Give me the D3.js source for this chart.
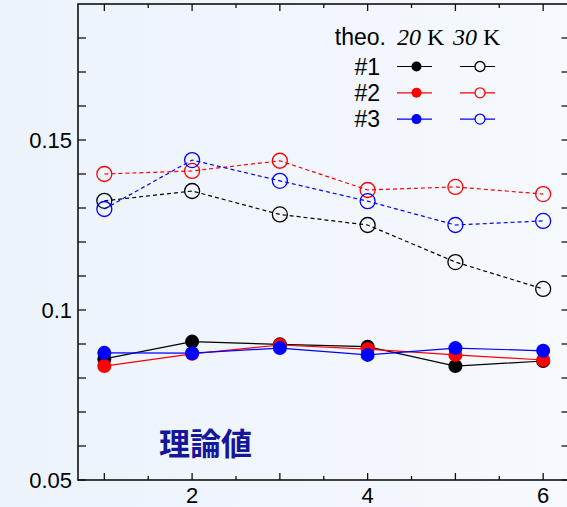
<!DOCTYPE html>
<html>
<head>
<meta charset="utf-8">
<script src="https://cdn.jsdelivr.net/npm/d3@7"></script>
<style>
  body { margin: 0; background: #f3f8fd; }
  svg { display: block; }
</style>
</head>
<body>
<svg width="567" height="507"></svg>
<script>
// x positions
var xs = [1, 2, 3, 4, 5, 6];

// 20 K (filled, solid line)
var k20_1 = [0.0856, 0.0907, 0.0899, 0.0892, 0.0835, 0.0850];
var k20_2 = [0.0835, 0.0871, 0.0897, 0.0885, 0.0868, 0.0853];
var k20_3 = [0.0874, 0.0873, 0.0888, 0.0868, 0.0888, 0.0880];

// 30 K (open, dashed line)
var k30_1 = [0.1321, 0.1350, 0.1281, 0.1250, 0.1141, 0.1062];
var k30_2 = [0.1400, 0.1409, 0.1439, 0.1353, 0.1362, 0.1341];
var k30_3 = [0.1297, 0.1441, 0.1380, 0.1320, 0.1250, 0.1262];

var seriesNames = ["#1", "#2", "#3"];
var seriesColors = ["#000000", "#ff0000", "#0000ff"];
var yTickLabels = [0.05, 0.1, 0.15];
var xTickLabels = [2, 4, 6];

var svg = d3.select("svg"),
    width = +svg.attr("width"),
    height = +svg.attr("height");

var margin = {left: 78, top: 4, right: -2.5, bottom: 27};
var sans = "'Liberation Sans', Arial, sans-serif";

// background gradient
var defs = svg.append("defs");
var grad = defs.append("linearGradient").attr("id", "bg")
    .attr("x1", 0).attr("y1", 0).attr("x2", 1).attr("y2", 0);
grad.append("stop").attr("offset", "0%").attr("stop-color", "#ecf3fb");
grad.append("stop").attr("offset", "100%").attr("stop-color", "#f6f9fe");
svg.append("rect").attr("width", width).attr("height", height).attr("fill", "url(#bg)");

var x = d3.scaleLinear().domain([0.7, 6.3]).range([margin.left, width - margin.right]);
var y = d3.scaleLinear().domain([0.05, 0.19]).range([height - margin.bottom, margin.top]);

var x0 = x.range()[0], x1 = x.range()[1], y0 = y.range()[0], y1 = y.range()[1];

// ticks, all pointing inward
var xMinor = d3.range(1, 6.01, 0.5);
var yMinor = d3.range(0.05, 0.185, 0.01);

xMinor.forEach(function (v) {
    var len = Math.abs(v - Math.round(v)) < 1e-6 ? 7 : 4;
    svg.append("line").attr("x1", x(v)).attr("x2", x(v)).attr("y1", y0).attr("y2", y0 - len)
        .attr("stroke", "#111").attr("stroke-width", 1.3);
    svg.append("line").attr("x1", x(v)).attr("x2", x(v)).attr("y1", y1).attr("y2", y1 + len)
        .attr("stroke", "#111").attr("stroke-width", 1.3);
});
yMinor.forEach(function (v) {
    svg.append("line").attr("x1", x0).attr("x2", x0 + 8).attr("y1", y(v)).attr("y2", y(v))
        .attr("stroke", "#111").attr("stroke-width", 1.3);
    svg.append("line").attr("x1", x1).attr("x2", x1 - 8).attr("y1", y(v)).attr("y2", y(v))
        .attr("stroke", "#111").attr("stroke-width", 1.3);
});

svg.append("rect").attr("x", x0).attr("y", y1).attr("width", x1 - x0).attr("height", y0 - y1)
    .attr("fill", "none").attr("stroke", "#111").attr("stroke-width", 1.6);

// tick labels
svg.append("g").selectAll("text").data(yTickLabels).enter().append("text")
    .attr("x", x0 - 6).attr("y", function (d) { return y(d) + 8; })
    .attr("text-anchor", "end")
    .style("font", "22px " + sans)
    .text(function (d) { return d; });

svg.append("g").selectAll("text").data(xTickLabels).enter().append("text")
    .attr("x", function (d) { return x(d); }).attr("y", y0 + 23)
    .attr("text-anchor", "middle")
    .style("font", "22px " + sans)
    .text(function (d) { return d; });

// data lines
var line = d3.line()
    .x(function (d, i) { return x(xs[i]); })
    .y(function (d) { return y(d); });

var k30 = [k30_1, k30_2, k30_3];
var k20 = [k20_1, k20_2, k20_3];

k30.forEach(function (vals, s) {
    var g = svg.append("g");
    g.append("path").datum(vals).attr("d", line)
        .attr("fill", "none").attr("stroke", seriesColors[s])
        .attr("stroke-width", 1.2).attr("stroke-dasharray", "4,3");
    g.selectAll("circle").data(vals).enter().append("circle")
        .attr("cx", function (d, i) { return x(xs[i]); })
        .attr("cy", function (d) { return y(d); })
        .attr("r", 7.5)
        .attr("fill", "none").attr("stroke", seriesColors[s]).attr("stroke-width", 1.3);
});

k20.forEach(function (vals, s) {
    var g = svg.append("g");
    g.append("path").datum(vals).attr("d", line)
        .attr("fill", "none").attr("stroke", seriesColors[s]).attr("stroke-width", 1.2);
    g.selectAll("circle").data(vals).enter().append("circle")
        .attr("cx", function (d, i) { return x(xs[i]); })
        .attr("cy", function (d) { return y(d); })
        .attr("r", 7)
        .attr("fill", seriesColors[s]);
});

// LEGEND
var legend = svg.append("g");
legend.append("text").attr("x", 386).attr("y", 45).attr("text-anchor", "end")
    .style("font", "23px " + sans).text("theo.");
[["20", 397], ["30", 453]].forEach(function (t) {
    var tx = legend.append("text").attr("x", t[1]).attr("y", 45)
        .style("font", "24px 'Liberation Serif', 'Times New Roman', serif");
    tx.append("tspan").style("font-style", "italic").text(t[0]);
    tx.append("tspan").text(" K");
});

seriesNames.forEach(function (name, i) {
    var ly = 66.5 + i * 26.3;
    var row = legend.append("g").attr("transform", "translate(0," + ly + ")");
    row.append("text").attr("x", 380).attr("y", 8).attr("text-anchor", "end")
        .style("font", "23px " + sans).text(name);
    row.append("line").attr("x1", 397).attr("x2", 432).attr("stroke", seriesColors[i]).attr("stroke-width", 1.2);
    row.append("circle").attr("cx", 416.5).attr("r", 5).attr("fill", seriesColors[i]);
    row.append("line").attr("x1", 460).attr("x2", 495).attr("stroke", seriesColors[i]).attr("stroke-width", 1.2);
    row.append("circle").attr("cx", 480).attr("r", 5).attr("fill", "#f5f9fe")
        .attr("stroke", seriesColors[i]).attr("stroke-width", 1.3);
});

// annotation
svg.append("text").attr("x", 159).attr("y", 455)
    .style("font", "bold 31px 'Noto Sans CJK JP', sans-serif")
    .attr("fill", "#16169a")
    .text("理論値");
</script>
</body>
</html>
